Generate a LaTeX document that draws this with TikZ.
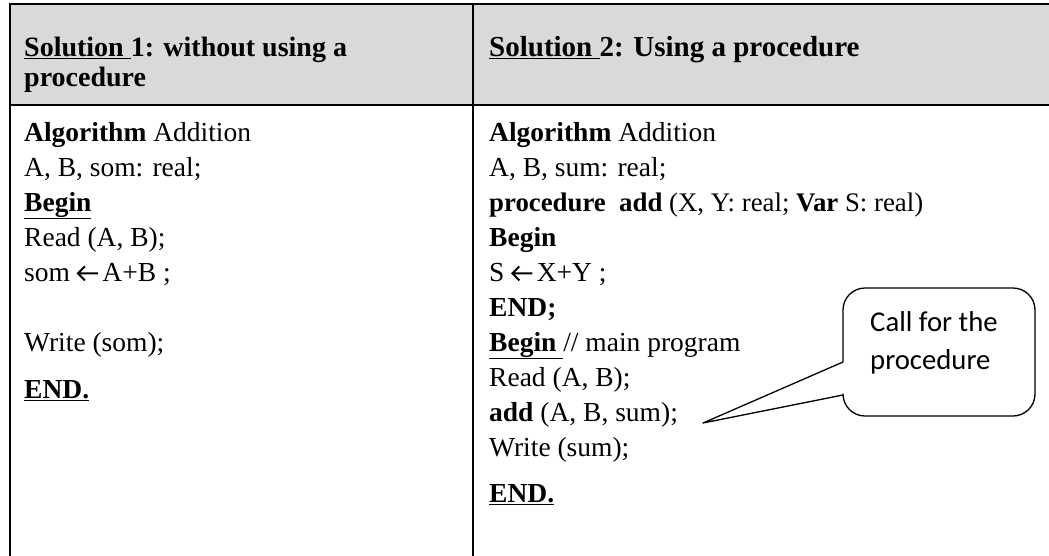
\documentclass[tikz,border=0pt]{standalone}
\usepackage{fontspec}
\setmainfont{Liberation Serif}
\newfontfamily\calloutfont{Carlito}
\definecolor{headergrey}{HTML}{D9D9D9}
\newcommand\undl[1]{\underline{#1}}
% assignment arrow, drawn as a small inline picture sitting on the baseline
\newcommand\assignarrow{\tikz[baseline=0pt, x=1pt, y=1pt]
  \draw[line width=2pt, line cap=butt, line join=miter]
    (8,14.6) -- (1,7.6) -- (8,0.6) (1,7.6) -- (21,7.6);\hspace{3.5pt}}
\tikzset{
  rule/.style={line width=1.9pt, line cap=rect},
  codeline/.style={anchor=base west, inner sep=0pt, font=\fontsize{27.5}{33}\selectfont},
  smallline/.style={codeline, font=\fontsize{26.8}{32}\selectfont},
  headline/.style={anchor=base west, inner sep=0pt, font=\fontsize{28}{33}\selectfont\bfseries},
  callout/.style={line width=1.3pt, line join=round},
  callouttext/.style={anchor=base west, inner sep=0pt, font=\calloutfont\fontsize{28.7}{34}\selectfont}
}
\begin{document}
\begin{tikzpicture}[x=1pt,y=-1pt]
\useasboundingbox (0,0) rectangle (1049,555);
% header band
\fill[headergrey] (10,4) rectangle (1049,105);
% table rules
\draw[rule] (10,4) -- (1049,4);
\draw[rule] (10,105) -- (1049,105);
\draw[rule] (10,4) -- (10,555);
\draw[rule] (473,4) -- (473,555);

% header cells
\node[headline] (h1a) at (24,56) {\undl{Solution }1: without using a};
\node[headline] (h1b) at (24,86) {procedure};
\node[headline, font=\fontsize{29}{33}\selectfont\bfseries] (h2a) at (489,56) {\undl{Solution }2: Using a procedure};

% first solution
\node[codeline] (l1) at (24,141) {\textbf{Algorithm} Addition};
\node[codeline] (l2) at (24,176) {A, B, som: real;};
\node[codeline] (l3) at (24,211) {\textbf{\undl{Begin}}};
\node[codeline] (l4) at (24,246) {Read (A, B);};
\node[codeline] (l5) at (24,281) {som \assignarrow A+B ;};
\node[codeline] (l6) at (24,351) {Write (som);};
\node[codeline] (l7) at (24,398) {\textbf{\undl{END.}}};

% second solution
\node[codeline] (r1) at (489,141) {\textbf{Algorithm} Addition};
\node[codeline] (r2) at (489,176) {A, B, sum: real;};
\node[smallline] (r3) at (489,211) {\textbf{procedure\ \ add} (X, Y: real; \textbf{Var} S: real)};
\node[codeline] (r4) at (489,246) {\textbf{Begin}};
\node[codeline] (r5) at (489,281) {S \assignarrow X+Y ;};
\node[codeline] (r6) at (489,316) {\textbf{END;}};
\node[codeline] (r7) at (489,351) {\textbf{\undl{Begin }}// main program};
\node[codeline] (r8) at (489,386) {Read (A, B);};
\node[codeline] (r9) at (489,421) {\textbf{add} (A, B, sum);};
\node[codeline] (r10) at (489,456) {Write (sum);};
\node[codeline] (r11) at (489,502) {\textbf{\undl{END.}}};

% callout with its pointer to the call line
\coordinate (tip) at (703,423);
\coordinate (ca) at (843,362);
\coordinate (cb) at (843,395);
\draw[callout, rounded corners=22pt] (ca) -- (843,288) -- (1035,288) -- (1035,416) -- (843,416) -- (cb);
\draw[callout] (ca) -- (tip) -- (cb);
\node[callouttext] (c1) at (870,331) {Call for the};
\node[callouttext] (c2) at (870,369) {procedure};
\end{tikzpicture}
\end{document}
